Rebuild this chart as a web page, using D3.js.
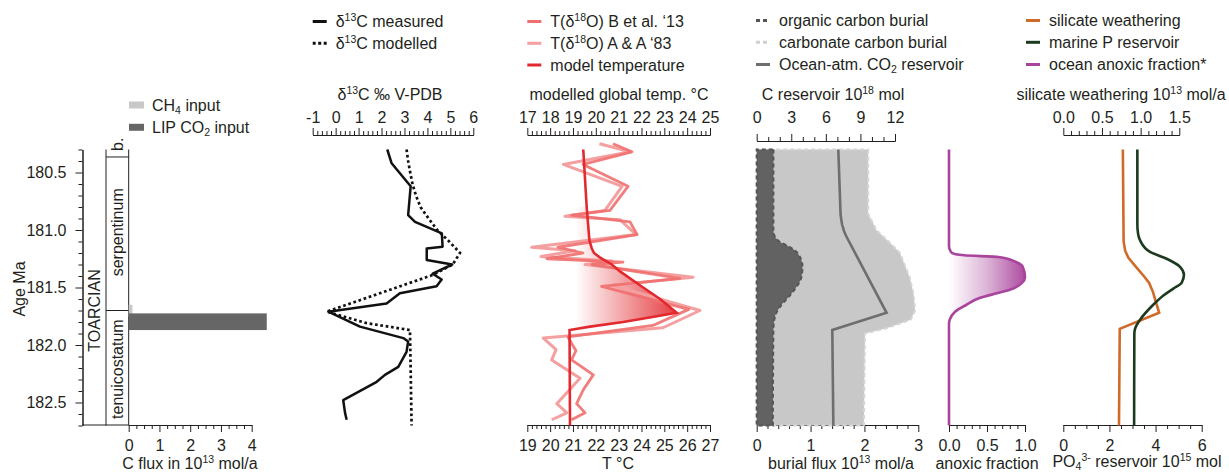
<!DOCTYPE html>
<html>
<head>
<meta charset="utf-8">
<script src="https://cdn.jsdelivr.net/npm/d3@7"></script>
<style>
    body { margin: 0; background: #fff; }
    svg { font-family: "Liberation Sans", Arial, Helvetica, sans-serif; }
</style>
</head>
<body>
<svg id="chart" width="1229" height="473"></svg>
<script>
// ---- data (age in Ma, value) ----
const ageTicks = [180.5, 181.0, 181.5, 182.0, 182.5];

const zones = [
    { name: 'b.', top: 180.3, bottom: 180.365, labelAge: 180.255 },
    { name: 'serpentinum', top: 180.365, bottom: 181.70, labelAge: 181.02 },
    { name: 'tenuicostatum', top: 181.70, bottom: 182.7, labelAge: 182.21 }
];
const stage = { name: 'TOARCIAN', labelAge: 181.70 };

const fluxBars = [
    { name: 'CH4', top: 181.65, bottom: 181.755, value: 0.12, color: '#c8c8c8' },
    { name: 'LIP', top: 181.725, bottom: 181.87, value: 4.49, color: '#666666' }
];
const fluxTicks = [0, 1, 2, 3, 4];

const d13cMeasured = [
    [180.30, 2.25], [180.42, 2.44], [180.62, 3.27], [180.87, 3.16], [180.93, 3.46],
    [181.03, 4.63], [181.145, 4.66], [181.16, 3.97], [181.26, 3.97], [181.30, 5.08],
    [181.38, 4.23], [181.43, 4.62], [181.49, 4.40], [181.55, 2.80], [181.64, 2.22],
    [181.71, -0.32], [181.84, 1.06], [181.94, 2.95], [181.97, 3.16], [182.06, 3.09],
    [182.19, 2.73], [182.26, 2.15], [182.32, 1.79], [182.48, 0.33], [182.59, 0.41],
    [182.65, 0.48]
];
const d13cModelled = [
    [180.30, 3.09], [180.40, 3.16], [180.50, 3.25], [180.60, 3.35], [180.70, 3.50],
    [180.80, 3.70], [180.90, 4.05], [181.00, 4.43], [181.10, 4.95], [181.20, 5.42],
    [181.30, 5.10], [181.39, 4.25], [181.71, -0.39], [181.81, 1.35], [181.87, 3.24],
    [182.70, 3.31]
];
const d13cTicks = [-1, 0, 1, 2, 3, 4, 5, 6];

// model temperature on the top scale (modelled global temp.)
const tempModel = [
    [180.30, 19.45], [180.80, 19.60], [181.09, 19.72], [181.16, 19.82], [181.20, 19.92],
    [181.24, 20.19], [181.30, 20.70], [181.36, 21.06], [181.48, 21.93], [181.60, 22.81],
    [181.72, 23.54], [181.75, 22.67], [181.80, 21.20], [181.84, 19.75], [181.87, 18.85],
    [182.70, 18.87]
];
const tempFillBase = 19.1;
// proxy temperatures on the bottom scale (T °C)
const tempBetal = [
    [180.25, 22.75], [180.32, 23.58], [180.43, 21.44], [180.62, 23.41], [180.83, 22.62],
    [180.87, 20.94], [180.93, 23.50], [181.04, 23.81], [181.15, 20.34], [181.20, 21.44],
    [181.25, 19.86], [181.28, 23.19], [181.30, 21.83], [181.42, 25.68], [181.49, 22.25],
    [181.69, 26.07], [181.83, 24.50], [181.93, 20.78], [182.05, 21.13], [182.13, 20.94],
    [182.26, 21.89], [182.39, 21.45], [182.51, 21.16], [182.59, 21.53], [182.65, 20.94]
];
const tempAA = [
    [180.25, 22.16], [180.32, 23.50], [180.43, 20.58], [180.62, 23.15], [180.83, 22.40],
    [180.88, 20.65], [180.91, 23.06], [181.04, 23.76], [181.15, 19.19], [181.18, 21.09],
    [181.23, 19.60], [181.27, 22.71], [181.30, 21.53], [181.41, 26.26], [181.48, 22.71],
    [181.70, 26.56], [181.85, 24.94], [181.94, 19.70], [182.04, 20.26], [182.13, 20.07],
    [182.29, 21.31], [182.51, 20.29], [182.59, 20.73], [182.65, 20.07]
];
const tempTopTicks = [17, 18, 19, 20, 21, 22, 23, 24, 25];
const tempBottomTicks = [19, 20, 21, 22, 23, 24, 25, 26, 27];

const organicBurial = [
    [180.30, 0.31], [181.00, 0.31], [181.05, 0.33], [181.10, 0.42], [181.15, 0.62],
    [181.20, 0.76], [181.32, 0.85], [181.41, 0.83], [181.55, 0.65], [181.67, 0.43],
    [181.75, 0.34], [181.87, 0.31], [182.70, 0.30]
];
const carbonateBurial = [
    [180.30, 2.07], [180.86, 2.07], [180.94, 2.16], [181.00, 2.22], [181.10, 2.45],
    [181.20, 2.66], [181.41, 2.84], [181.55, 2.91], [181.70, 2.94], [181.78, 2.86],
    [181.855, 2.41], [181.90, 2.01], [182.70, 1.99]
];
const co2Reservoir = [
    [180.30, 7.08], [180.87, 7.28], [180.95, 7.40], [181.01, 7.58], [181.05, 7.75],
    [181.72, 11.27], [181.87, 6.56], [182.70, 6.65]
];
const reservoirTicks = [0, 3, 6, 9, 12];
const burialTicks = [0, 1, 2, 3];

const anoxicFraction = [
    [180.30, 0], [181.14, 0], [181.17, 0.01], [181.20, 0.04], [181.22, 0.2],
    [181.235, 0.65], [181.28, 0.89], [181.32, 0.97], [181.41, 1.0], [181.46, 0.96],
    [181.52, 0.80], [181.55, 0.63], [181.59, 0.41], [181.65, 0.23], [181.71, 0.08],
    [181.78, 0.01], [181.82, 0], [182.70, 0]
];
const anoxicTicks = [0, 0.5, 1];

const silicateWeathering = [
    [180.30, 0.77], [181.10, 0.78], [181.18, 0.80], [181.24, 0.84], [181.32, 0.94],
    [181.40, 1.04], [181.46, 1.11], [181.54, 1.16], [181.61, 1.19], [181.72, 1.24],
    [181.86, 0.73], [182.70, 0.72]
];
const pReservoir = [
    [180.30, 3.21], [180.95, 3.21], [181.03, 3.24], [181.09, 3.33], [181.19, 3.76],
    [181.25, 4.48], [181.32, 5.06], [181.39, 5.23], [181.46, 5.13], [181.51, 4.77],
    [181.57, 4.34], [181.65, 3.90], [181.78, 3.33], [181.86, 3.11], [181.90, 3.08],
    [182.70, 3.07]
];
const silicateTicks = [0, 0.5, 1.0, 1.5];
const po4Ticks = [0, 2, 4, 6];

// ---- layout ----
const svg = d3.select('#chart');
const FONT = '"Liberation Sans", Arial, Helvetica, sans-serif';
const INK = '#231f20';
const TOP_AXIS = 135, BOTTOM_AXIS = 425;

const y = d3.scaleLinear().domain([180.3, 182.7]).range([149.5, 425.5]);

const xFlux = d3.scaleLinear().domain([0, 4]).range([128.7, 251.7]);
const xD13c = d3.scaleLinear().domain([-1, 6]).range([312.7, 473.3]);
const xTempTop = d3.scaleLinear().domain([17, 25]).range([527.3, 710]);
const xTempBottom = d3.scaleLinear().domain([19, 27]).range([527.3, 710]);
const xReservoir = d3.scaleLinear().domain([0, 12]).range([756.7, 895]);
const xBurial = d3.scaleLinear().domain([0, 3]).range([756.7, 918.3]);
const xAnoxic = d3.scaleLinear().domain([0, 1]).range([949, 1025]);
const xSilicate = d3.scaleLinear().domain([0, 1.5]).range([1063.3, 1179.3]);
const xPO4 = d3.scaleLinear().domain([0, 6]).range([1063.3, 1201.7]);

function addAxis(orient, scale, pos, major, minorStep, fmt, pad) {
    const make = { top: d3.axisTop, bottom: d3.axisBottom, left: d3.axisLeft }[orient];
    const [d0, d1] = scale.domain();
    const minor = d3.range(d0, d1 + minorStep / 2, minorStep)
        .filter(v => !major.some(m => Math.abs(m - v) < 1e-6));
    const g = svg.append('g')
        .attr('transform', orient === 'left' ? `translate(${pos},0)` : `translate(0,${pos})`);
    g.append('g').call(make(scale).tickValues(minor).tickSize(4).tickSizeOuter(0).tickFormat(''));
    g.append('g').call(make(scale).tickValues(major).tickSize(7).tickSizeOuter(0)
        .tickPadding(pad).tickFormat(fmt));
    g.selectAll('g').attr('font-family', FONT).attr('font-size', 16);
    g.selectAll('path.domain, line').attr('stroke', INK).attr('stroke-width', 1);
    g.selectAll('text').attr('fill', INK);
    return g;
}

function rich(sel, parts) {
    let shift = 0;
    parts.forEach(p => {
        const [s, kind] = Array.isArray(p) ? p : [p, null];
        const target = kind === 'sup' ? -6 : kind === 'sub' ? 3 : 0;
        const t = sel.append('tspan').attr('dy', target - shift).text(s);
        if (kind) t.attr('font-size', 10.5);
        shift = target;
    });
    return sel;
}

function label(x, yPos, parts, anchor = 'middle', rotate = false) {
    const t = svg.append('text')
        .attr('transform', rotate ? `translate(${x},${yPos}) rotate(-90)` : `translate(${x},${yPos})`)
        .attr('text-anchor', anchor)
        .attr('font-size', 16).attr('fill', INK);
    return rich(t, parts);
}

const defs = svg.append('defs');
function hGradient(id, x1, x2, color, stops) {
    const gr = defs.append('linearGradient').attr('id', id)
        .attr('gradientUnits', 'userSpaceOnUse')
        .attr('x1', x1).attr('x2', x2).attr('y1', 0).attr('y2', 0);
    stops.forEach(([o, a]) => gr.append('stop').attr('offset', o)
        .attr('stop-color', color).attr('stop-opacity', a));
}

function profile(data, xs, curve = d3.curveLinear) {
    return d3.line().x(d => xs(d[1])).y(d => y(d[0])).curve(curve)(data);
}

function legendRow(x, yPos, parts, swatch) {
    const g = svg.append('g');
    if (swatch.rect) {
        g.append('rect').attr('x', x).attr('y', yPos - 3.5).attr('width', 15).attr('height', 7)
            .attr('fill', swatch.rect);
    } else {
        g.append('line').attr('x1', x).attr('x2', x + 14).attr('y1', yPos).attr('y2', yPos)
            .attr('stroke', swatch.stroke).attr('stroke-width', swatch.width || 3)
            .attr('stroke-dasharray', swatch.dash || null);
    }
    label(x + 23, yPos + 5.6, parts, 'start');
}

// ---- panel 1: stratigraphy and carbon input ----
addAxis('left', y, 82.5, ageTicks, 0.1, d3.format('.1f'), 9);
addAxis('bottom', xFlux, BOTTOM_AXIS, fluxTicks, 0.25, d => String(d), 8);
svg.append('line').attr('x1', 82.5).attr('x2', xFlux(0)).attr('y1', BOTTOM_AXIS).attr('y2', BOTTOM_AXIS)
    .attr('stroke', INK);
[106, xFlux(0)].forEach(x => svg.append('line').attr('x1', x).attr('x2', x)
    .attr('y1', y(180.3)).attr('y2', y(182.7)).attr('stroke', INK));
zones.slice(1).forEach(z => svg.append('line').attr('x1', 106).attr('x2', xFlux(0))
    .attr('y1', y(z.top)).attr('y2', y(z.top)).attr('stroke', INK));
zones.forEach(z => label(123, y(z.labelAge), [z.name], 'middle', true));
label(100, y(stage.labelAge), [stage.name], 'middle', true);
label(25, 289, ['Age Ma'], 'middle', true);

svg.selectAll('rect.flux').data(fluxBars).join('rect')
    .attr('class', 'flux')
    .attr('x', xFlux(0))
    .attr('y', d => y(d.top))
    .attr('width', d => xFlux(d.value) - xFlux(0))
    .attr('height', d => y(d.bottom) - y(d.top))
    .attr('fill', d => d.color);

label(190, 469, ['C flux in 10', ['13', 'sup'], ' mol/a']);
legendRow(129, 105, ['CH', ['4', 'sub'], ' input'], { rect: '#c8c8c8' });
legendRow(129, 127.3, ['LIP CO', ['2', 'sub'], ' input'], { rect: '#666666' });

// ---- panel 2: d13C ----
addAxis('top', xD13c, TOP_AXIS, d13cTicks, 0.2, d => String(d), 5.5);
label(390, 100, ['δ', ['13', 'sup'], 'C ‰ V-PDB']);
svg.append('path').attr('d', profile(d13cModelled, xD13c)).attr('fill', 'none')
    .attr('stroke', '#111').attr('stroke-width', 2.7).attr('stroke-dasharray', '2.7,2.7');
svg.append('path').attr('d', profile(d13cMeasured, xD13c)).attr('fill', 'none')
    .attr('stroke', '#111').attr('stroke-width', 2.5).attr('stroke-linejoin', 'round');
legendRow(312.7, 21.5, ['δ', ['13', 'sup'], 'C measured'], { stroke: '#111', width: 3 });
legendRow(312.7, 43.3, ['δ', ['13', 'sup'], 'C modelled'], { stroke: '#111', width: 3, dash: '3,2.5' });

// ---- panel 3: temperature ----
addAxis('top', xTempTop, TOP_AXIS, tempTopTicks, 0.2, d => String(d), 5.5);
addAxis('bottom', xTempBottom, BOTTOM_AXIS, tempBottomTicks, 0.2, d => String(d), 8);
label(619, 100, ['modelled global temp. °C']);
label(618, 469, ['T °C']);

hGradient('tempGrad', xTempTop(tempFillBase), xTempTop(23.54), '#e2292e', [[0, 0], [1, 0.9]]);
const tempFillData = tempModel.filter(d => d[0] >= 180.8 && d[0] <= 181.87);
svg.append('path')
    .attr('d', d3.area()
        .y(d => y(d[0]))
        .x0(d => Math.min(xTempTop(tempFillBase), xTempTop(d[1])))
        .x1(d => xTempTop(d[1]))(tempFillData))
    .attr('fill', 'url(#tempGrad)');

svg.append('path').attr('d', profile(tempAA, xTempBottom)).attr('fill', 'none')
    .attr('stroke', '#f5a0a0').attr('stroke-width', 3).attr('stroke-linejoin', 'round');
svg.append('path').attr('d', profile(tempBetal, xTempBottom)).attr('fill', 'none')
    .attr('stroke', '#ef6f6f').attr('stroke-width', 2.8).attr('stroke-linejoin', 'round')
    .attr('stroke-opacity', 0.9);
svg.append('path').attr('d', profile(tempModel, xTempTop)).attr('fill', 'none')
    .attr('stroke', '#e2292e').attr('stroke-width', 2.6);

legendRow(527.3, 21.5, ['T(δ', ['18', 'sup'], 'O) B et al. ‘13'], { stroke: '#ef6f6f' });
legendRow(527.3, 43.3, ['T(δ', ['18', 'sup'], 'O) A & A ‘83'], { stroke: '#f5a0a0' });
legendRow(527.3, 65, ['model temperature'], { stroke: '#e2292e' });

// ---- panel 4: carbon burial and reservoir ----
addAxis('top', xReservoir, 141, reservoirTicks, 1, d => String(d), 11.5);
addAxis('bottom', xBurial, BOTTOM_AXIS, burialTicks, 0.2, d => String(d), 8);
label(833, 100, ['C reservoir 10', ['18', 'sup'], ' mol']);
label(841, 469, ['burial flux 10', ['13', 'sup'], ' mol/a']);

const burialArea = d3.area().y(d => y(d[0])).x0(xBurial(0)).x1(d => xBurial(d[1]));
svg.append('path').attr('d', burialArea(carbonateBurial))
    .attr('fill', '#c8c8c8').attr('stroke', '#d6d6d6').attr('stroke-width', 2)
    .attr('stroke-dasharray', '4,3');
svg.append('path').attr('d', burialArea.curve(d3.curveMonotoneY)(organicBurial))
    .attr('fill', '#626262').attr('stroke', '#555').attr('stroke-width', 2)
    .attr('stroke-dasharray', '4,3');
svg.append('path').attr('d', profile(co2Reservoir, xReservoir)).attr('fill', 'none')
    .attr('stroke', '#6e6e6e').attr('stroke-width', 2.6);

legendRow(756, 20.5, ['organic carbon burial'], { stroke: '#555', dash: '4,3' });
legendRow(756, 42.3, ['carbonate carbon burial'], { stroke: '#cfcfcf', dash: '4,3' });
legendRow(756, 64.5, ['Ocean-atm. CO', ['2', 'sub'], ' reservoir'], { stroke: '#6e6e6e' });

// ---- panel 5: anoxic fraction ----
addAxis('bottom', xAnoxic, BOTTOM_AXIS, anoxicTicks, 0.1, d3.format('.1f'), 8);
label(987, 469, ['anoxic fraction']);
hGradient('anoxGrad', xAnoxic(0), xAnoxic(1), '#a9449c', [[0, 0], [0.5, 0.4], [1, 0.95]]);
const anoxFill = anoxicFraction.filter(d => d[0] >= 181.14 && d[0] <= 181.82);
svg.append('path')
    .attr('d', d3.area().y(d => y(d[0])).x0(xAnoxic(0)).x1(d => xAnoxic(d[1]))
        .curve(d3.curveMonotoneY)(anoxFill))
    .attr('fill', 'url(#anoxGrad)');
svg.append('path').attr('d', profile(anoxicFraction, xAnoxic, d3.curveMonotoneY))
    .attr('fill', 'none').attr('stroke', '#a9449c').attr('stroke-width', 2.6);

// ---- panel 6: silicate weathering and P ----
addAxis('top', xSilicate, TOP_AXIS, silicateTicks, 0.1, d3.format('.1f'), 5.5);
addAxis('bottom', xPO4, BOTTOM_AXIS, po4Ticks, 0.5, d => String(d), 8);
label(1121, 100, ['silicate weathering 10', ['13', 'sup'], ' mol/a']);
label(1137, 467, ['PO', ['4', 'sub'], ['3-', 'sup'], ' reservoir 10', ['15', 'sup'], ' mol']);
svg.append('path').attr('d', profile(silicateWeathering, xSilicate)).attr('fill', 'none')
    .attr('stroke', '#cf6a28').attr('stroke-width', 2.6);
svg.append('path').attr('d', profile(pReservoir, xPO4, d3.curveMonotoneY)).attr('fill', 'none')
    .attr('stroke', '#1c3a1e').attr('stroke-width', 2.6);

legendRow(1026, 20.5, ['silicate weathering'], { stroke: '#cf6a28' });
legendRow(1026, 42.3, ['marine P reservoir'], { stroke: '#1c3a1e' });
legendRow(1026, 64.5, ['ocean anoxic fraction*'], { stroke: '#a9449c' });
</script>
</body>
</html>
